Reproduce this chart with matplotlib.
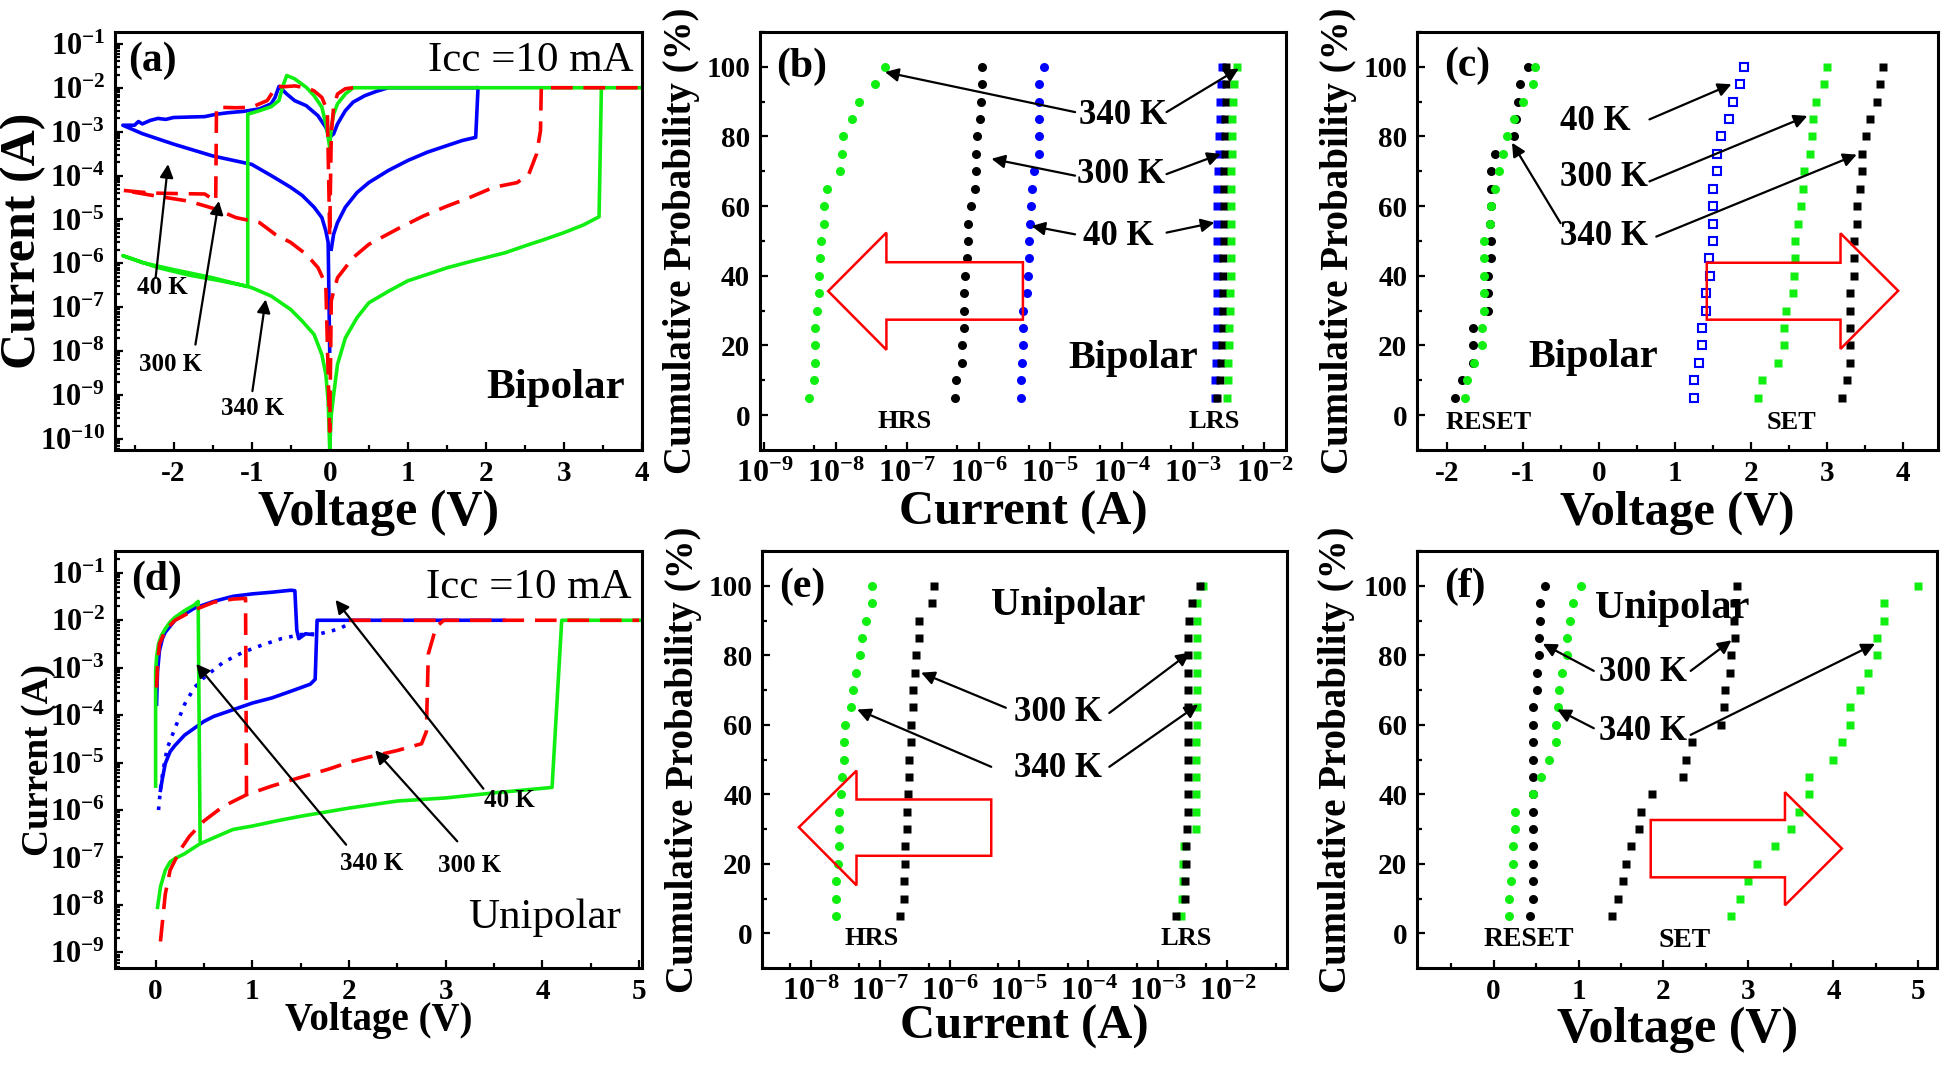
import numpy as np
import matplotlib
matplotlib.use("Agg")
import matplotlib.pyplot as plt
from matplotlib.ticker import FixedLocator, MultipleLocator, FuncFormatter, NullFormatter
from matplotlib.patches import Polygon

plt.rcParams['font.family'] = ['Liberation Serif', 'DejaVu Serif']
plt.rcParams['font.weight'] = 'bold'
plt.rcParams['axes.unicode_minus'] = False
plt.rcParams['mathtext.fontset'] = 'custom'
plt.rcParams['mathtext.rm'] = 'Liberation Serif:bold'
plt.rcParams['mathtext.bf'] = 'Liberation Serif:bold'
plt.rcParams['mathtext.it'] = 'Liberation Serif:bold'
plt.rcParams['mathtext.default'] = 'bf'

nan = np.nan
BLUE, RED, GREEN = '#0000ff', '#ff0000', '#11ee11'

# ---------------- (a) bipolar I-V ----------------
a_blue_v = [0, -0.02, -0.05, -0.1, -0.2, -0.35, -0.5, -0.75, -1.0, -1.5, -2.0, -2.4, -2.65,
            -2.5, -2.45, -2.4, -2.3, -2.2, -2.1, -2.0, -1.8, -1.6, -1.45, -1.3, -1.1, -0.9, -0.75,
            -0.7, -0.65, -0.55, -0.45, -0.3, -0.15, -0.05, 0, nan,
            0, 0.05, 0.1, 0.2, 0.3, 0.45, 0.6, 0.75, 1.88, nan,
            0.02, 0.05, 0.1, 0.2, 0.35, 0.5, 0.75, 1.0, 1.25, 1.5, 1.7, 1.87, 1.9]
a_blue_i = [1e-8, 3e-6, 5.5e-6, 1.1e-5, 1.9e-5, 3.5e-5, 5.4e-5, 1e-4, 1.8e-4, 2.8e-4, 5.2e-4, 9e-4, 1.4e-3,
            1.4e-3, 1.7e-3, 1.5e-3, 1.8e-3, 2.0e-3, 1.9e-3, 2.1e-3, 2.15e-3, 2.2e-3, 2.5e-3, 2.7e-3, 2.9e-3, 3.3e-3, 4.3e-3,
            6e-3, 1.07e-2, 7.2e-3, 5.1e-3, 3.9e-3, 2.3e-3, 1.25e-3, 7.4e-4, nan,
            7.4e-4, 8.9e-4, 1.5e-3, 3e-3, 4.7e-3, 6.6e-3, 8.3e-3, 1e-2, 1e-2, nan,
            2.1e-6, 4.6e-6, 8.5e-6, 1.9e-5, 4.1e-5, 6.9e-5, 1.3e-4, 2.2e-4, 3.4e-4, 4.8e-4, 6.3e-4, 7.4e-4, 1e-2]

a_red_v = [0, -0.03, -0.1, -0.2, -0.3, -0.45, -0.6, -0.68, -0.8, -1.0, -1.2, -1.45, -1.46, -1.6, -2.0, -2.3, -2.65,
           -2.3, -1.8, -1.45, -1.2, -0.9, -0.7, -0.5, -0.3, -0.15, -0.05, 0, 0.02, 0.05, 0.1, 0.2, 0.3, 0.5,
           0.7, 0.9, 1.2, 1.5, 1.8, 2.1, 2.4, 2.55, 2.65, 2.7, 2.71, 4.0, nan,
           0.3, 0.2, 0.1, 0.05, 0.02, 0]
a_red_i = [4.6e-6, 3e-3, 6e-3, 8.5e-3, 1e-2, 1.1e-2, 1.05e-2, 1.1e-2, 5.1e-3, 3.6e-3, 3.5e-3, 3.6e-3, 2.6e-5, 3.8e-5, 3.9e-5, 4.0e-5, 4.6e-5,
           3.6e-5, 2.6e-5, 1.7e-5, 1.1e-5, 8.5e-6, 4.6e-6, 3e-6, 1.6e-6, 8e-7, 3.3e-7, 1.5e-10, 1.4e-7, 2.3e-7, 4.7e-7, 8e-7, 1.35e-6, 2.7e-6,
           4.2e-6, 6.5e-6, 1.2e-5, 2e-5, 3.2e-5, 5.4e-5, 6.9e-5, 1.07e-4, 3.1e-4, 1.05e-3, 1e-2, 1e-2, nan,
           1e-2, 9.5e-3, 7.2e-3, 3.6e-3, 8.9e-4, 4.6e-6]

a_green_v = [0, -0.02, -0.05, -0.1, -0.2, -0.35, -0.5, -0.75, -1.0, -1.5, -2.0, -2.4, -2.65, -2.2, -1.8, -1.4,
             -1.05, -1.05, -0.9, -0.75, -0.65, -0.6, -0.55, -0.45, -0.3, -0.2, -0.1, -0.04, 0, 0.02, 0.05, 0.1,
             0.2, 0.3, 4.0, nan,
             0, 0.02, 0.05, 0.1, 0.2, 0.35, 0.5, 0.75, 1.0, 1.25, 1.5, 1.75, 2.0, 2.25, 2.5, 2.75, 3.0, 3.25,
             3.45, 3.48]
a_green_i = [6e-11, 7.2e-10, 3e-9, 8.3e-9, 2.4e-8, 4.8e-8, 8.9e-8, 1.8e-7, 2.8e-7, 4.7e-7, 7.2e-7, 1.04e-6, 1.5e-6, 8e-7, 5.4e-7, 4e-7,
             3e-7, 2.5e-3, 3e-3, 3.7e-3, 5.1e-3, 1.1e-2, 1.9e-2, 1.6e-2, 1.02e-2, 6.6e-3, 3.6e-3, 1.25e-3, 4.4e-4, 1.25e-3, 2.5e-3, 4.3e-3,
             7.2e-3, 1e-2, 1e-2, nan,
             6e-11, 3.5e-10, 1e-9, 5e-9, 2e-8, 5.8e-8, 1.26e-7, 2.3e-7, 4e-7, 5.6e-7, 7.9e-7, 1.04e-6, 1.35e-6, 1.75e-6, 2.5e-6, 3.5e-6, 5e-6, 7.5e-6,
             1.15e-5, 1e-2]

# ---------------- cumulative probability levels ----------------
prob = [5, 10, 15, 20, 25, 30, 35, 40, 45, 50, 55, 60, 65, 70, 75, 80, 85, 90, 95, 100]

# (b) bipolar resistance-state currents (A)
b_hrs_340 = [4.3e-9, 4.9e-9, 5.1e-9, 5.1e-9, 5.1e-9, 5.5e-9, 5.9e-9, 5.9e-9, 6.0e-9, 6.3e-9, 6.9e-9, 6.9e-9,
             7.6e-9, 1.15e-8, 1.23e-8, 1.26e-8, 1.7e-8, 2.1e-8, 3.5e-8, 4.9e-8]
b_hrs_300 = [4.6e-7, 4.8e-7, 5.8e-7, 5.8e-7, 6.2e-7, 6.2e-7, 6.3e-7, 6.5e-7, 6.8e-7, 7.1e-7, 7.1e-7, 7.8e-7,
             8.9e-7, 9.1e-7, 9.1e-7, 9.5e-7, 1.05e-6, 1.07e-6, 1.1e-6, 1.1e-6]
b_hrs_40 = [3.9e-6, 3.9e-6, 4.1e-6, 4.2e-6, 4.2e-6, 4.2e-6, 4.8e-6, 4.9e-6, 5.0e-6, 5.1e-6, 5.2e-6, 5.4e-6,
            5.6e-6, 5.9e-6, 6.9e-6, 6.9e-6, 6.9e-6, 6.9e-6, 6.9e-6, 8.3e-6]
b_lrs_40 = [2.0e-3, 2.05e-3, 2.1e-3, 2.1e-3, 2.15e-3, 2.15e-3, 2.15e-3, 2.15e-3, 2.2e-3, 2.2e-3, 2.2e-3, 2.2e-3,
            2.2e-3, 2.25e-3, 2.3e-3, 2.3e-3, 2.35e-3, 2.4e-3, 2.45e-3, 2.55e-3]
b_lrs_300 = [2.15e-3, 2.4e-3, 2.5e-3, 2.55e-3, 2.6e-3, 2.6e-3, 2.65e-3, 2.65e-3, 2.65e-3, 2.7e-3, 2.7e-3, 2.7e-3,
             2.7e-3, 2.75e-3, 2.8e-3, 2.8e-3, 2.8e-3, 2.85e-3, 2.85e-3, 2.9e-3]
b_lrs_340 = [3.0e-3, 3.05e-3, 3.1e-3, 3.15e-3, 3.2e-3, 3.25e-3, 3.3e-3, 3.35e-3, 3.35e-3, 3.4e-3, 3.4e-3, 3.45e-3,
             3.45e-3, 3.45e-3, 3.5e-3, 3.5e-3, 3.55e-3, 3.6e-3, 3.8e-3, 4.1e-3]

# (c) bipolar switching voltages (V)
c_reset_300 = [-1.90, -1.81, -1.67, -1.67, -1.66, -1.47, -1.47, -1.46, -1.43, -1.43, -1.44, -1.43, -1.43, -1.42,
               -1.38, -1.12, -1.10, -1.07, -1.05, -0.94]
c_reset_340 = [-1.77, -1.74, -1.65, -1.55, -1.55, -1.52, -1.52, -1.52, -1.52, -1.52, -1.44, -1.42, -1.38, -1.32,
               -1.27, -1.22, -1.12, -1.00, -0.87, -0.85]
c_set_40 = [1.25, 1.25, 1.31, 1.35, 1.35, 1.41, 1.41, 1.46, 1.44, 1.50, 1.50, 1.50, 1.50, 1.55, 1.55, 1.60, 1.71,
            1.76, 1.85, 1.90]
c_set_300 = [2.09, 2.14, 2.35, 2.43, 2.43, 2.46, 2.55, 2.56, 2.58, 2.58, 2.62, 2.65, 2.68, 2.70, 2.78, 2.80, 2.82,
             2.85, 2.96, 3.00]
c_set_340 = [3.20, 3.26, 3.30, 3.30, 3.30, 3.30, 3.30, 3.35, 3.36, 3.36, 3.39, 3.39, 3.43, 3.46, 3.46, 3.51, 3.56,
             3.65, 3.70, 3.73]

# ---------------- (d) unipolar I-V ----------------
d_blue_v = [0.05, 0.07, 0.1, 0.15, 0.2, 0.3, 0.4, 0.5, 0.6, 0.8, 1.0, 1.2, 1.4, 1.6, 1.65, 1.67, 3.6, nan,
            0.01, 0.02, 0.04, 0.07, 0.1, 0.2, 0.4, 0.6, 0.8, 1.0, 1.2, 1.4, 1.44, 1.46, 1.48, 1.55, 1.62]
d_blue_i = [2.6e-6, 4.6e-6, 9.6e-6, 1.7e-5, 2.3e-5, 3.8e-5, 5.3e-5, 7.4e-5, 9.4e-5, 1.3e-4, 1.8e-4, 2.3e-4, 3.2e-4,
            4.5e-4, 5.7e-4, 1e-2, 1e-2, nan,
            1.7e-4, 8.5e-4, 2.3e-3, 4.1e-3, 5.6e-3, 1e-2, 1.8e-2, 2.5e-2, 3.2e-2, 3.6e-2, 3.9e-2, 4.3e-2, 4.2e-2,
            6.2e-3, 4.1e-3, 5.2e-3, 5.0e-3]
d_bdot_v = [0.03, 0.05, 0.08, 0.12, 0.2, 0.3, 0.4, 0.5, 0.7, 0.9, 1.1, 1.3, 1.5, 1.7, 1.9, 2.0]
d_bdot_i = [1.0e-6, 2.8e-6, 7.4e-6, 2e-5, 5.3e-5, 1.7e-4, 3.8e-4, 6.2e-4, 1.3e-3, 2.1e-3, 3e-3, 4.1e-3, 5e-3,
            5.2e-3, 6.6e-3, 8.5e-3]
d_red_v = [0.05, 0.1, 0.15, 0.25, 0.35, 0.5, 0.7, 0.94, 1.2, 1.5, 1.8, 2.0, 2.2, 2.5, 2.75, 2.8, 2.82, 2.9, 2.98, 5.0, nan,
           0.01, 0.02, 0.04, 0.07, 0.1, 0.2, 0.4, 0.6, 0.8, 0.93, 0.94, nan,
           2.0, 2.98]
d_red_i = [1.7e-9, 1.7e-8, 5.4e-8, 1.4e-7, 2.8e-7, 5.9e-7, 1.2e-6, 2.1e-6, 3.2e-6, 4.9e-6, 7.4e-6, 1.02e-5, 1.3e-5,
           1.8e-5, 2.5e-5, 4.5e-5, 1.95e-3, 7.2e-3, 1e-2, 1e-2, nan,
           3.8e-4, 1.2e-3, 3.2e-3, 4.4e-3, 6.2e-3, 1e-2, 1.65e-2, 2.4e-2, 2.8e-2, 2.9e-2, 2.1e-6, nan,
           1e-2, 1e-2]
d_green_v = [0.02, 0.05, 0.1, 0.15, 0.2, 0.3, 0.45, 0.6, 0.8, 1.0, 1.25, 1.5, 2.0, 2.5, 3.0, 3.5, 4.1, 4.2, 5.0, nan,
             0.0, 0.0, 0.01, 0.03, 0.06, 0.1, 0.15, 0.2, 0.3, 0.4, 0.44, 0.46]
d_green_i = [8.9e-9, 2.4e-8, 5.4e-8, 8.1e-8, 9.5e-8, 1.2e-7, 1.9e-7, 2.6e-7, 3.9e-7, 4.6e-7, 5.9e-7, 7.4e-7, 1.1e-6,
             1.55e-6, 1.8e-6, 2.3e-6, 3e-6, 1e-2, 1e-2, nan,
             3.2e-6, 8.5e-4, 1.65e-3, 3.2e-3, 4.8e-3, 6.6e-3, 9.2e-3, 1.15e-2, 1.6e-2, 2.1e-2, 2.5e-2, 2.3e-7]

# (e) unipolar resistance-state currents (A)
e_hrs_340 = [2.3e-8, 2.3e-8, 2.3e-8, 2.45e-8, 2.6e-8, 2.6e-8, 2.6e-8, 2.7e-8, 2.8e-8, 3.0e-8, 3.0e-8, 3.1e-8,
             3.8e-8, 4.1e-8, 4.5e-8, 5.2e-8, 5.5e-8, 6.2e-8, 7.6e-8, 7.6e-8]
e_hrs_300 = [1.95e-7, 2.24e-7, 2.24e-7, 2.3e-7, 2.3e-7, 2.4e-7, 2.4e-7, 2.5e-7, 2.6e-7, 2.6e-7, 2.75e-7, 2.8e-7,
             2.95e-7, 3.0e-7, 3.2e-7, 3.3e-7, 3.6e-7, 3.6e-7, 5.5e-7, 5.9e-7]
e_lrs_300 = [1.8e-3, 2.47e-3, 2.47e-3, 2.5e-3, 2.5e-3, 2.65e-3, 2.7e-3, 2.7e-3, 2.7e-3, 2.7e-3, 2.7e-3, 2.7e-3,
             2.7e-3, 2.7e-3, 2.7e-3, 2.7e-3, 2.75e-3, 2.8e-3, 3.1e-3, 4.1e-3]
e_lrs_340 = [2.16e-3, 2.25e-3, 2.3e-3, 2.3e-3, 2.35e-3, 3.5e-3, 3.5e-3, 3.5e-3, 3.55e-3, 3.55e-3, 3.55e-3, 3.6e-3,
             3.6e-3, 3.6e-3, 3.6e-3, 3.65e-3, 3.65e-3, 3.7e-3, 3.7e-3, 4.4e-3]

# (f) unipolar switching voltages (V)
f_reset_300 = [0.43, 0.46, 0.46, 0.46, 0.46, 0.46, 0.47, 0.47, 0.47, 0.47, 0.47, 0.47, 0.47, 0.51, 0.51, 0.53, 0.53,
               0.55, 0.55, 0.60]
f_reset_340 = [0.18, 0.18, 0.21, 0.23, 0.23, 0.25, 0.25, 0.46, 0.56, 0.65, 0.74, 0.74, 0.76, 0.77, 0.80, 0.86, 0.87,
               0.90, 0.93, 1.03]
f_set_300 = [1.39, 1.47, 1.52, 1.56, 1.62, 1.71, 1.74, 1.86, 2.23, 2.26, 2.33, 2.68, 2.71, 2.73, 2.78, 2.80, 2.84,
             2.83, 2.83, 2.87]
f_set_340 = [2.80, 2.90, 3.00, 3.10, 3.31, 3.50, 3.60, 3.71, 3.71, 4.00, 4.10, 4.20, 4.20, 4.31, 4.41, 4.51, 4.51,
             4.60, 4.60, 5.00]

# ---------------- layout ----------------
fig = plt.figure(figsize=(19.46, 10.66), dpi=100)
axa = fig.add_axes([0.0591, 0.5779, 0.2708, 0.3921])
axb = fig.add_axes([0.3905, 0.5779, 0.2703, 0.3921])
axc = fig.add_axes([0.7282, 0.5779, 0.2677, 0.3921])
axd = fig.add_axes([0.0591, 0.0919, 0.2708, 0.3912])
axe = fig.add_axes([0.3916, 0.0919, 0.2698, 0.3912])
axf = fig.add_axes([0.7282, 0.0919, 0.2672, 0.3912])

logfmt = FuncFormatter(lambda v, p: r'$10^{%d}$' % int(round(np.log10(v))))


def frame(ax, fs):
    for s in ax.spines.values():
        s.set_linewidth(2.2)
    ax.tick_params(which='both', direction='in', top=False, right=False, width=1.6, labelsize=fs, pad=7)
    ax.tick_params(which='major', length=6)
    ax.tick_params(which='minor', length=3.5)


def log_axis(ax, which, lo, hi, minor_subs, fs):
    axis = ax.xaxis if which == 'x' else ax.yaxis
    axis.set_major_locator(FixedLocator([10.0 ** k for k in range(lo, hi + 1)]))
    axis.set_major_formatter(logfmt)
    axis.set_minor_locator(FixedLocator([s * 10.0 ** k for k in range(lo - 1, hi + 1) for s in minor_subs]))
    axis.set_minor_formatter(NullFormatter())
    ax.tick_params(axis=which, which='major', labelsize=fs)


def arrow(ax, tail, tip):
    ax.annotate('', xy=tip, xytext=tail,
                arrowprops=dict(arrowstyle='-|>', color='k', lw=1.6, mutation_scale=20, shrinkA=0, shrinkB=0))


def block_arrow(ax, tail_x, neck_x, tip_x, shaft, head, tip_y):
    pts = [(tail_x, shaft[0]), (neck_x, shaft[0]), (neck_x, head[0]), (tip_x, tip_y),
           (neck_x, head[1]), (neck_x, shaft[1]), (tail_x, shaft[1])]
    ax.add_patch(Polygon(pts, closed=True, fill=False, edgecolor=RED, lw=1.8, zorder=5))


def labels(ax, xl, yl, xfs, yfs, xy_x, xy_y):
    ax.set_xlabel(xl, fontsize=xfs, fontweight='bold')
    ax.set_ylabel(yl, fontsize=yfs, fontweight='bold')
    ax.xaxis.set_label_coords(0.5, xy_x)
    ax.yaxis.set_label_coords(xy_y, 0.5)
    ax.xaxis.label.set_va('center')
    ax.yaxis.label.set_va('center')


lw_iv = 2.6
dash = (0, (6, 3))

# ---------------- (a) ----------------
ax = axa
ax.plot(a_blue_v, a_blue_i, color=BLUE, lw=lw_iv)
ax.plot(a_green_v, a_green_i, color=GREEN, lw=lw_iv)
ax.plot(a_red_v, a_red_i, color=RED, lw=lw_iv, linestyle=dash)
ax.set_yscale('log')
ax.set_xlim(-2.75, 4.0)
ax.set_ylim(10 ** -10.25, 10 ** -0.73)
frame(ax, 21)
log_axis(ax, 'y', -10, -1, range(2, 10), 22)
ax.xaxis.set_major_locator(MultipleLocator(1))
ax.xaxis.set_minor_locator(MultipleLocator(0.5))
labels(ax, 'Voltage (V)', 'Current (A)', 36, 36, -0.15, -0.175)
ax.text(-2.585, 10 ** -1.38, '(a)', fontsize=30, ha='left', va='center')
ax.text(3.89, 10 ** -1.38, 'Icc =10 mA', fontsize=31, fontweight='normal', ha='right', va='center')
ax.text(3.78, 10 ** -8.84, 'Bipolar', fontsize=31, ha='right', va='center')
ax.text(-2.14, 10 ** -6.56, '40 K', fontsize=18, ha='center', va='center')
ax.text(-2.04, 10 ** -8.31, '300 K', fontsize=18, ha='center', va='center')
ax.text(-0.99, 10 ** -9.3, '340 K', fontsize=18, ha='center', va='center')
arrow(ax, (-2.23, 10 ** -6.33), (-2.07, 10 ** -3.74))
arrow(ax, (-1.72, 10 ** -7.85), (-1.42, 10 ** -4.58))
arrow(ax, (-0.99, 10 ** -8.91), (-0.82, 10 ** -6.82))

# ---------------- (b) ----------------
ax = axb
ms_c, ms_s = 6.5, 6.3
ax.plot(b_hrs_340, prob, 'o', color=GREEN, ms=ms_c, mec='none')
ax.plot(b_hrs_300, prob, 'o', color='k', ms=ms_c, mec='none')
ax.plot(b_hrs_40, prob, 'o', color=BLUE, ms=ms_c, mec='none')
ax.plot(b_lrs_40, prob, 's', color=BLUE, ms=ms_s, mec='none')
ax.plot(b_lrs_300, prob, 's', color='k', ms=ms_s, mec='none')
ax.plot(b_lrs_340, prob, 's', color=GREEN, ms=ms_s, mec='none')
ax.set_xscale('log')
ax.set_xlim(10 ** -9.06, 10 ** -1.7)
ax.set_ylim(-10, 110)
frame(ax, 21)
log_axis(ax, 'x', -9, -2, [5], 23)
ax.yaxis.set_major_locator(MultipleLocator(20))
ax.yaxis.set_minor_locator(MultipleLocator(10))
labels(ax, 'Current (A)', 'Cumulative Probability (%)', 35, 28, -0.15, -0.15)
ax.text(10 ** -8.84, 100, '(b)', fontsize=30, ha='left', va='center')
ax.text(10 ** -3.84, 16.3, 'Bipolar', fontsize=29, ha='center', va='center')
ax.text(10 ** -7.04, -1.9, 'HRS', fontsize=19, ha='center', va='center')
ax.text(10 ** -2.7, -1.9, 'LRS', fontsize=19, ha='center', va='center')
ax.text(10 ** -3.98, 86, '340 K', fontsize=25, ha='center', va='center')
ax.text(10 ** -4.01, 69, '300 K', fontsize=25, ha='center', va='center')
ax.text(10 ** -4.04, 51.4, '40 K', fontsize=25, ha='center', va='center')
arrow(ax, (10 ** -4.65, 87), (10 ** -7.31, 98.5))
arrow(ax, (10 ** -3.37, 87), (10 ** -2.36, 99.5))
arrow(ax, (10 ** -4.65, 68.75), (10 ** -5.82, 73.6))
arrow(ax, (10 ** -3.37, 69.2), (10 ** -2.61, 75))
arrow(ax, (10 ** -4.65, 51.9), (10 ** -5.26, 54.3))
arrow(ax, (10 ** -3.37, 52.4), (10 ** -2.7, 55.3))
block_arrow(ax, 10 ** -5.38, 10 ** -7.29, 10 ** -8.105, (43.9, 27.4), (52.4, 18.75), 35.6)

# ---------------- (c) ----------------
ax = axc
ax.plot(c_reset_300, prob, 'o', color='k', ms=ms_c, mec='none')
ax.plot(c_reset_340, prob, 'o', color=GREEN, ms=ms_c, mec='none')
ax.plot(c_set_40, prob, 's', mfc='none', mec=BLUE, mew=1.5, ms=5.2)
ax.plot(c_set_300, prob, 's', color=GREEN, ms=ms_s, mec='none')
ax.plot(c_set_340, prob, 's', color='k', ms=ms_s, mec='none')
ax.set_xlim(-2.4, 4.46)
ax.set_ylim(-10, 110)
frame(ax, 21)
ax.xaxis.set_major_locator(MultipleLocator(1))
ax.xaxis.set_minor_locator(MultipleLocator(0.5))
ax.yaxis.set_major_locator(MultipleLocator(20))
ax.yaxis.set_minor_locator(MultipleLocator(10))
labels(ax, 'Voltage (V)', 'Cumulative Probability (%)', 35, 28, -0.15, -0.15)
ax.text(-2.05, 100.3, '(c)', fontsize=30, ha='left', va='center')
ax.text(-0.08, 16.6, 'Bipolar', fontsize=29, ha='center', va='center')
ax.text(-1.46, -2.1, 'RESET', fontsize=19, ha='center', va='center')
ax.text(2.53, -2.1, 'SET', fontsize=19, ha='center', va='center')
ax.text(-0.05, 84.4, '40 K', fontsize=25, ha='center', va='center')
ax.text(0.06, 68.1, '300 K', fontsize=25, ha='center', va='center')
ax.text(0.06, 51.25, '340 K', fontsize=25, ha='center', va='center')
arrow(ax, (0.66, 84.9), (1.74, 95))
arrow(ax, (0.66, 67.1), (2.74, 85.9))
arrow(ax, (0.75, 51.25), (3.39, 74.8))
arrow(ax, (-0.51, 55.1), (-1.15, 78.2))
block_arrow(ax, 1.415, 3.176, 3.935, (43.75, 27.4), (52.2, 19.0), 35.7)

# ---------------- (d) ----------------
ax = axd
ax.plot(d_blue_v, d_blue_i, color=BLUE, lw=lw_iv)
ax.plot(d_bdot_v, d_bdot_i, color=BLUE, lw=lw_iv, linestyle=(0, (1, 2)))
ax.plot(d_green_v, d_green_i, color=GREEN, lw=lw_iv)
ax.plot(d_red_v, d_red_i, color=RED, lw=lw_iv, linestyle=dash)
ax.set_yscale('log')
ax.set_xlim(-0.42, 5.03)
ax.set_ylim(10 ** -9.33, 10 ** -0.54)
frame(ax, 21)
log_axis(ax, 'y', -9, -1, range(2, 10), 22)
ax.xaxis.set_major_locator(MultipleLocator(1))
ax.xaxis.set_minor_locator(MultipleLocator(0.5))
labels(ax, 'Voltage (V)', 'Current (A)', 28, 27, -0.125, -0.146)
ax.text(-0.25, 10 ** -1.14, '(d)', fontsize=30, ha='left', va='center')
ax.text(4.92, 10 ** -1.32, 'Icc =10 mA', fontsize=31, fontweight='normal', ha='right', va='center')
ax.text(4.81, 10 ** -8.27, 'Unipolar', fontsize=31, fontweight='normal', ha='right', va='center')
ax.text(3.66, 10 ** -5.8, '40 K', fontsize=18, ha='center', va='center')
ax.text(2.23, 10 ** -7.12, '340 K', fontsize=18, ha='center', va='center')
ax.text(3.25, 10 ** -7.16, '300 K', fontsize=18, ha='center', va='center')
arrow(ax, (3.39, 10 ** -5.55), (1.86, 10 ** -1.57))
arrow(ax, (1.97, 10 ** -6.73), (0.42, 10 ** -2.92))
arrow(ax, (3.12, 10 ** -6.66), (2.27, 10 ** -4.74))

# ---------------- (e) ----------------
ax = axe
ax.plot(e_hrs_340, prob, 'o', color=GREEN, ms=ms_c, mec='none')
ax.plot(e_hrs_300, prob, 's', color='k', ms=ms_s, mec='none')
ax.plot(e_lrs_340, prob, 's', color=GREEN, ms=ms_s, mec='none')
ax.plot(e_lrs_300, prob, 's', color='k', ms=ms_s, mec='none')
ax.set_xscale('log')
ax.set_xlim(10 ** -8.7, 10 ** -1.14)
ax.set_ylim(-10, 110)
frame(ax, 21)
log_axis(ax, 'x', -8, -2, [5], 23)
ax.yaxis.set_major_locator(MultipleLocator(20))
ax.yaxis.set_minor_locator(MultipleLocator(10))
labels(ax, 'Current (A)', 'Cumulative Probability (%)', 35, 28, -0.141, -0.15)
ax.text(10 ** -8.46, 99.7, '(e)', fontsize=30, ha='left', va='center')
ax.text(10 ** -4.29, 94.4, 'Unipolar', fontsize=29, ha='center', va='center')
ax.text(10 ** -7.12, -1.5, 'HRS', fontsize=19, ha='center', va='center')
ax.text(10 ** -2.6, -1.5, 'LRS', fontsize=19, ha='center', va='center')
ax.text(10 ** -4.44, 63.4, '300 K', fontsize=25, ha='center', va='center')
ax.text(10 ** -4.44, 47.4, '340 K', fontsize=25, ha='center', va='center')
arrow(ax, (10 ** -5.19, 64.9), (10 ** -6.41, 75.0))
arrow(ax, (10 ** -3.7, 63.4), (10 ** -2.54, 80.8))
arrow(ax, (10 ** -5.4, 47.9), (10 ** -7.33, 64.4))
arrow(ax, (10 ** -3.7, 47.9), (10 ** -2.42, 65.8))
block_arrow(ax, 10 ** -5.40, 10 ** -7.34, 10 ** -8.17, (38.5, 22.3), (46.8, 13.8), 30.5)

# ---------------- (f) ----------------
ax = axf
ax.plot(f_reset_300, prob, 'o', color='k', ms=ms_c, mec='none')
ax.plot(f_reset_340, prob, 'o', color=GREEN, ms=ms_c, mec='none')
ax.plot(f_set_300, prob, 's', color='k', ms=ms_s, mec='none')
ax.plot(f_set_340, prob, 's', color=GREEN, ms=ms_s, mec='none')
ax.set_xlim(-0.9, 5.22)
ax.set_ylim(-10, 110)
frame(ax, 21)
ax.xaxis.set_major_locator(MultipleLocator(1))
ax.xaxis.set_minor_locator(MultipleLocator(0.5))
ax.yaxis.set_major_locator(MultipleLocator(20))
ax.yaxis.set_minor_locator(MultipleLocator(10))
labels(ax, 'Voltage (V)', 'Cumulative Probability (%)', 36, 28, -0.149, -0.155)
ax.text(-0.58, 99.8, '(f)', fontsize=30, ha='left', va='center')
ax.text(2.1, 93.5, 'Unipolar', fontsize=29, ha='center', va='center')
ax.text(0.41, -1.65, 'RESET', fontsize=20, ha='center', va='center')
ax.text(2.25, -2.1, 'SET', fontsize=20, ha='center', va='center')
ax.text(1.76, 75, '300 K', fontsize=25, ha='center', va='center')
ax.text(1.76, 58.1, '340 K', fontsize=25, ha='center', va='center')
arrow(ax, (1.18, 75.5), (0.58, 83.3))
arrow(ax, (2.32, 75.5), (2.8, 84.3))
arrow(ax, (1.18, 59), (0.75, 64.4))
arrow(ax, (2.32, 57.1), (4.49, 83.3))
block_arrow(ax, 1.85, 3.43, 4.1, (32.6, 16.1), (40.6, 8.06), 24.4)

fig.savefig('out.png', dpi=100)
